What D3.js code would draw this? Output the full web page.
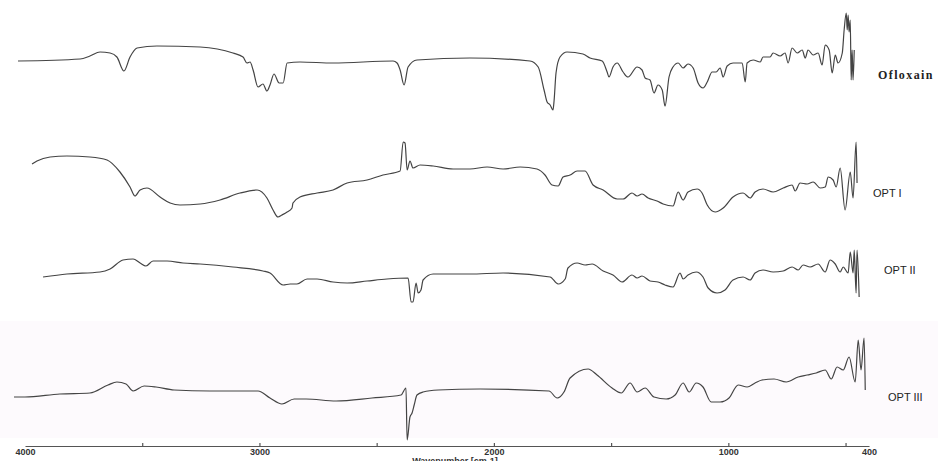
<!DOCTYPE html>
<html>
<head>
<meta charset="utf-8">
<script src="https://cdn.jsdelivr.net/npm/d3@7"></script>
<style>
  body { margin: 0; background: #fff; }
</style>
</head>
<body>
<svg></svg>
<script>
// wavenumbers (cm-1) and relative transmittance for each spectrum
var ofloxainWn = [4030, 3765, 3723, 3680, 3637, 3608, 3578, 3552, 3522, 3437, 3253, 3113, 3070, 3053, 3040, 3027, 3006, 2985, 2968, 2955, 2938, 2916, 2899, 2882, 2827, 2686, 2430, 2413, 2400, 2383, 2366, 2328, 2102, 1846, 1811, 1786, 1773, 1760, 1748, 1743, 1735, 1718, 1688, 1620, 1590, 1538, 1517, 1509, 1492, 1474, 1449, 1428, 1389, 1368, 1355, 1334, 1317, 1300, 1282, 1270, 1253, 1236, 1214, 1193, 1172, 1150, 1129, 1108, 1090, 1069, 1052, 1035, 1022, 1005, 980, 941, 928, 920, 894, 864, 852, 822, 809, 779, 758, 745, 728, 706, 685, 672, 660, 638, 617, 600, 587, 570, 557, 544, 532, 514, 506, 497, 493, 489, 485, 480, 476, 472, 468, 463];
var ofloxainT  = [49, 51, 54, 58, 57, 53, 39, 53, 62, 64, 63, 57, 53, 47, 48, 40, 23, 26, 19, 25, 36, 27, 27, 47, 48, 47, 49, 47, 40, 25, 43, 50, 52, 49, 43, 20, 8, 5, 0, 10, 37, 53, 58, 56, 52, 49, 38, 33, 43, 47, 38, 33, 43, 40, 32, 30, 17, 25, 20, 4, 33, 43, 47, 42, 46, 42, 27, 22, 28, 38, 38, 42, 33, 44, 47, 47, 28, 47, 50, 48, 53, 53, 57, 54, 57, 47, 62, 57, 60, 52, 60, 55, 57, 45, 65, 60, 37, 55, 47, 57, 80, 97, 80, 95, 78, 90, 30, 60, 30, 60];

var opt1Wn = [3970, 3949, 3893, 3821, 3723, 3650, 3595, 3552, 3531, 3509, 3480, 3424, 3381, 3339, 3253, 3168, 3083, 3010, 2968, 2942, 2921, 2904, 2882, 2861, 2857, 2827, 2754, 2686, 2626, 2541, 2473, 2400, 2387, 2379, 2370, 2358, 2345, 2315, 2259, 2174, 2102, 2029, 1961, 1888, 1816, 1782, 1752, 1726, 1705, 1675, 1645, 1611, 1577, 1534, 1474, 1449, 1411, 1389, 1368, 1342, 1304, 1278, 1236, 1214, 1193, 1172, 1133, 1112, 1090, 1056, 1022, 980, 937, 907, 886, 852, 809, 766, 728, 715, 694, 664, 638, 608, 587, 574, 553, 540, 523, 502, 480, 468, 455, 451];
var opt1T  = [66, 69, 73, 74, 73, 70, 58, 43, 34, 40, 42, 33, 27, 25, 26, 30, 37, 40, 32, 20, 13, 15, 18, 22, 27, 33, 37, 40, 47, 50, 55, 59, 88, 87, 60, 69, 62, 65, 64, 61, 61, 63, 61, 63, 61, 55, 45, 44, 53, 55, 59, 59, 45, 40, 31, 31, 37, 34, 36, 32, 29, 26, 24, 38, 30, 38, 41, 37, 25, 18, 22, 33, 37, 32, 38, 41, 38, 42, 45, 39, 47, 46, 48, 42, 43, 53, 50, 43, 62, 20, 58, 32, 88, 47];

var opt2Wn = [3923, 3821, 3680, 3637, 3582, 3539, 3509, 3484, 3454, 3394, 3326, 3253, 3113, 2985, 2955, 2899, 2869, 2840, 2797, 2754, 2686, 2626, 2541, 2456, 2366, 2353, 2345, 2332, 2323, 2311, 2302, 2259, 2102, 1961, 1760, 1726, 1696, 1684, 1645, 1611, 1581, 1534, 1492, 1453, 1411, 1389, 1368, 1334, 1300, 1270, 1236, 1206, 1193, 1172, 1137, 1108, 1086, 1048, 1014, 980, 937, 907, 886, 852, 809, 766, 728, 702, 681, 651, 617, 587, 566, 544, 523, 510, 489, 480, 468, 463, 455, 451, 442];
var opt2T  = [53, 56, 58, 61, 70, 71, 67, 64, 69, 69, 67, 66, 63, 59, 57, 45, 46, 46, 51, 51, 48, 47, 49, 51, 52, 28, 28, 47, 37, 40, 50, 56, 56, 57, 53, 46, 51, 62, 67, 65, 66, 59, 55, 48, 55, 52, 54, 49, 48, 45, 43, 57, 51, 55, 58, 53, 42, 37, 40, 50, 53, 50, 57, 60, 58, 59, 63, 60, 65, 63, 66, 58, 70, 66, 58, 63, 57, 78, 57, 80, 37, 80, 33];

var opt3Wn = [4047, 4000, 3851, 3723, 3646, 3608, 3569, 3539, 3492, 3441, 3364, 3211, 3006, 2955, 2904, 2852, 2801, 2673, 2520, 2396, 2375, 2370, 2358, 2349, 2340, 2328, 2302, 2238, 2059, 1765, 1730, 1701, 1675, 1598, 1560, 1496, 1457, 1419, 1389, 1355, 1317, 1265, 1227, 1193, 1167, 1137, 1108, 1073, 1035, 997, 958, 920, 886, 856, 805, 753, 702, 664, 625, 587, 561, 536, 510, 485, 459, 446, 434, 421, 416];
var opt3T  = [43, 43, 46, 47, 55, 58, 56, 49, 54, 53, 50, 49, 49, 42, 36, 41, 41, 39, 42, 45, 52, 0, 23, 27, 35, 45, 48, 50, 51, 49, 42, 48, 62, 71, 65, 52, 47, 57, 48, 52, 43, 41, 45, 57, 48, 57, 53, 38, 38, 42, 55, 53, 57, 60, 61, 58, 63, 65, 67, 70, 61, 73, 70, 83, 58, 100, 70, 102, 50];

var spectrumNames = ["Ofloxain", "OPT I", "OPT II", "OPT III"];
var tickValues = [4000, 3500, 3000, 2500, 2000, 1500, 1000, 500, 400];
var tickLabels = [4000, 3000, 2000, 1000, 400];

var svgWidth = 938, svgHeight = 461;
var bandTops = [10, 130, 230, 340], bandHeight = 100;

var svg = d3.select('svg')
    .attr('width', svgWidth)
    .attr('height', svgHeight)
    .style('display', 'block')
    .style('background-color', 'white');

// faint tint behind the lowest spectrum, as in the scanned figure
svg.append('rect')
    .attr('x', 0)
    .attr('y', 321)
    .attr('width', svgWidth)
    .attr('height', 117)
    .attr('fill', '#fdfafd');

var x = d3.scaleLinear()
    .domain([4000, 400])
    .range([25, 869]);

var spectra = [
    d3.zip(ofloxainWn, ofloxainT),
    d3.zip(opt1Wn, opt1T),
    d3.zip(opt2Wn, opt2T),
    d3.zip(opt3Wn, opt3T)
];

spectra.forEach(function(points, i) {
    var y = d3.scaleLinear()
        .domain([0, 100])
        .range([bandTops[i] + bandHeight, bandTops[i]]);

    var line = d3.line()
        .curve(d3.curveMonotoneX)
        .x(function(d) { return x(d[0]); })
        .y(function(d) { return y(d[1]); });

    svg.append('path')
        .datum(points)
        .attr('d', line)
        .attr('fill', 'none')
        .attr('stroke', '#444')
        .attr('stroke-width', 1.2)
        .attr('stroke-linejoin', 'round');
});

// spectrum labels
var labelPos = [[878, 79], [873, 197], [884, 274], [888, 401]];
svg.selectAll('text.name')
    .data(spectrumNames)
    .enter()
    .append('text')
    .attr('class', 'name')
    .attr('x', function(d, i) { return labelPos[i][0]; })
    .attr('y', function(d, i) { return labelPos[i][1]; })
    .attr('fill', '#222')
    .style('font-family', function(d, i) { return i === 0 ? '"Liberation Serif", serif' : '"Liberation Sans", Arial, sans-serif'; })
    .style('font-weight', function(d, i) { return i === 0 ? 'bold' : 'normal'; })
    .style('font-size', function(d, i) { return i === 0 ? '12px' : '11px'; })
    .style('letter-spacing', function(d, i) { return i === 0 ? '1.4px' : '0px'; })
    .text(function(d) { return d; });

// wavenumber axis
var axis = d3.axisBottom(x)
    .tickValues(tickValues)
    .tickSizeInner(-3)
    .tickSizeOuter(0)
    .tickPadding(3)
    .tickFormat(function(d) { return tickLabels.indexOf(d) >= 0 ? d : ''; });

var gAxis = svg.append('g')
    .attr('transform', 'translate(0,446)')
    .call(axis);

gAxis.select('.domain').attr('stroke', '#555').attr('stroke-width', 1.2);
gAxis.selectAll('.tick line').attr('stroke', '#555').attr('stroke-width', 1.2);
gAxis.selectAll('.tick')
    .filter(function(d) { return d === 4000 || d === 400; })
    .select('line').remove();
gAxis.selectAll('.tick text')
    .attr('fill', '#333')
    .style('font-family', '"Liberation Sans", Arial, sans-serif')
    .style('font-weight', 'bold')
    .style('font-size', '9px');

// axis title sits at the very bottom edge, partly cut off as in the source
svg.append('text')
    .attr('x', 455)
    .attr('y', 464)
    .attr('text-anchor', 'middle')
    .attr('fill', '#333')
    .style('font-family', '"Liberation Sans", Arial, sans-serif')
    .style('font-weight', 'bold')
    .style('font-size', '9px')
    .text('Wavenumber [cm-1]');
</script>
</body>
</html>
